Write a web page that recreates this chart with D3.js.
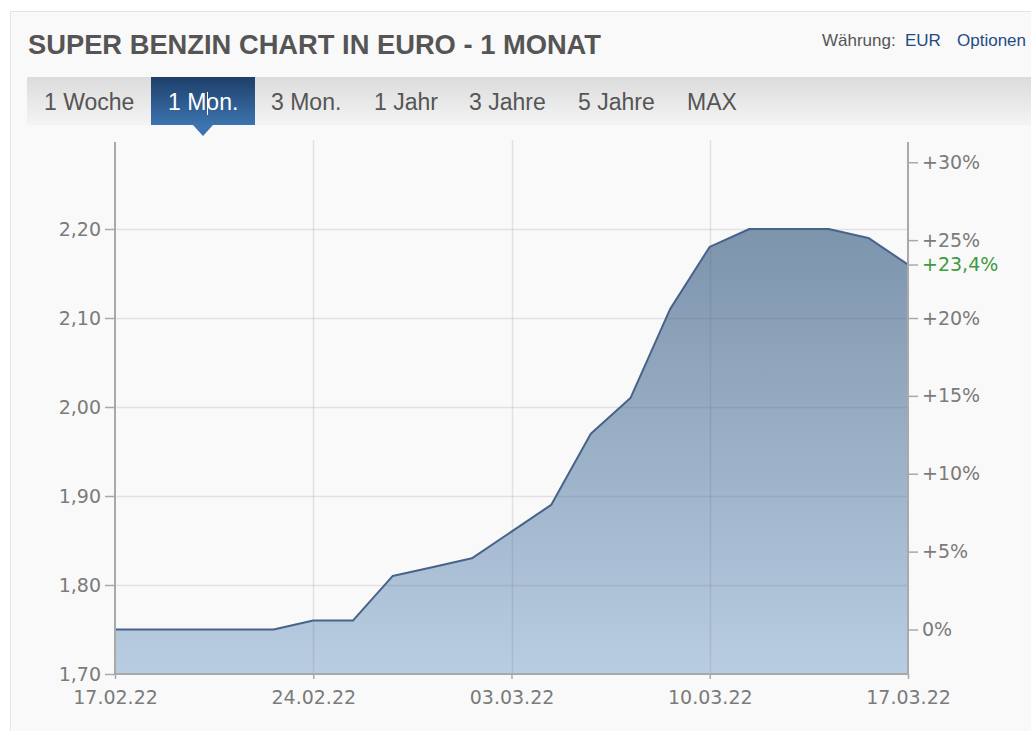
<!DOCTYPE html>
<html>
<head>
<meta charset="utf-8">
<script src="https://cdn.jsdelivr.net/npm/d3@7"></script>
<style>
  body { margin: 0; background: #fff; }
  svg { display: block; }
</style>
</head>
<body>
<svg id="chart" width="1031" height="731"></svg>
<script>
// price data, one point per trading day
const dates = ["17.02.22", "18.02.22", "21.02.22", "22.02.22", "23.02.22", "24.02.22", "25.02.22",
  "28.02.22", "01.03.22", "02.03.22", "03.03.22", "04.03.22", "07.03.22", "08.03.22", "09.03.22",
  "10.03.22", "11.03.22", "14.03.22", "15.03.22", "16.03.22", "17.03.22"]
const prices = [1.75, 1.75, 1.75, 1.75, 1.75, 1.76, 1.76, 1.81, 1.82, 1.83, 1.86, 1.89, 1.97,
  2.01, 2.11, 2.18, 2.20, 2.20, 2.20, 2.19, 2.16]
const priceTicks = [1.70, 1.80, 1.90, 2.00, 2.10, 2.20]
const pctTicks = [0, 5, 10, 15, 20, 25, 30]
const dateTicks = ["17.02.22", "24.02.22", "03.03.22", "10.03.22", "17.03.22"]
const tabs = ["1 Woche", "1 Mon.", "3 Mon.", "1 Jahr", "3 Jahre", "5 Jahre", "MAX"]
const tabX = [44, 168, 271, 374, 469, 578, 687]
const activeTab = 1

const svg = d3.select('#chart')
const LABEL_COLOR = '#7b7b7b'
const AXIS_COLOR = '#a9a9a9'
const TICK_FONT = '"DejaVu Sans", Verdana, sans-serif'

// panel
svg.append('rect').attr('x', 10.5).attr('y', 11.5).attr('width', 1040).attr('height', 740)
  .attr('fill', '#f9f9f9').attr('stroke', '#e4e4e4')

const defs = svg.append('defs')

// header
svg.append('text')
  .attr('x', 28).attr('y', 54)
  .attr('font-family', '"Liberation Sans", Arial, sans-serif')
  .attr('font-size', 28).attr('font-weight', 'bold')
  .attr('fill', '#555')
  .attr('textLength', 573).attr('lengthAdjust', 'spacingAndGlyphs')
  .text('SUPER BENZIN CHART IN EURO - 1 MONAT')

const currency = svg.append('text')
  .attr('y', 46)
  .attr('font-family', '"Liberation Sans", Arial, sans-serif')
  .attr('font-size', 17)
currency.append('tspan').attr('x', 822).attr('fill', '#555').text('Währung:')
currency.append('tspan').attr('x', 905).attr('fill', '#1f4b84').text('EUR')
currency.append('tspan').attr('x', 957).attr('fill', '#1f4b84').text('Optionen')

// tab bar
const barGrad = defs.append('linearGradient').attr('id', 'barGrad')
  .attr('x1', 0).attr('y1', 0).attr('x2', 0).attr('y2', 1)
barGrad.append('stop').attr('offset', 0).attr('stop-color', '#dcdcdc')
barGrad.append('stop').attr('offset', 1).attr('stop-color', '#f4f4f4')

const tabGrad = defs.append('linearGradient').attr('id', 'tabGrad')
  .attr('x1', 0).attr('y1', 0).attr('x2', 0).attr('y2', 1)
tabGrad.append('stop').attr('offset', 0).attr('stop-color', '#1d3f6a')
tabGrad.append('stop').attr('offset', 1).attr('stop-color', '#3d73ae')

svg.append('rect').attr('x', 27).attr('y', 77).attr('width', 1004).attr('height', 48)
  .attr('fill', 'url(#barGrad)')

svg.append('rect').attr('x', 151).attr('y', 77).attr('width', 104).attr('height', 48)
  .attr('fill', 'url(#tabGrad)')
svg.append('path').attr('d', 'M193,125 L213,125 L203,136 Z').attr('fill', '#3d73ae')

svg.selectAll('.tab')
  .data(tabs)
  .enter()
  .append('text')
  .attr('class', 'tab')
  .attr('x', (d, i) => tabX[i])
  .attr('y', 110)
  .attr('font-family', '"Liberation Sans", Arial, sans-serif')
  .attr('font-size', 23)
  .attr('fill', (d, i) => i === activeTab ? '#fff' : '#555')
  .text(d => d)

// text cursor left in the active tab
svg.append('line').attr('x1', 207.5).attr('x2', 207.5).attr('y1', 92).attr('y2', 115)
  .attr('stroke', '#fff').attr('stroke-width', 1)

// chart
const LEFT = 115
const RIGHT = 908
const BOTTOM = 674
const TOP = 140

const xScale = d3.scaleLinear().domain([0, dates.length - 1]).range([LEFT, RIGHT])
const yScale = d3.scaleLinear().domain([1.70, 2.30]).range([BOTTOM, TOP])
const base = prices[0]
const pctScale = d3.scaleLinear()
  .domain([(1.70 / base - 1) * 100, (2.30 / base - 1) * 100])
  .range([BOTTOM, TOP])

const g = svg.append('g')

const areaGrad = defs.append('linearGradient').attr('id', 'areaGrad')
  .attr('gradientUnits', 'userSpaceOnUse')
  .attr('x1', 0).attr('y1', yScale(2.2)).attr('x2', 0).attr('y2', BOTTOM)
areaGrad.append('stop').attr('offset', 0).attr('stop-color', '#7c94ac')
areaGrad.append('stop').attr('offset', 1).attr('stop-color', '#b9cde2')

g.append('path')
  .datum(prices)
  .attr('fill', 'url(#areaGrad)')
  .attr('d', d3.area()
    .x((d, i) => xScale(i))
    .y0(BOTTOM)
    .y1(d => yScale(d)))

// grid on top of the area so it shows through
g.selectAll('.hgrid')
  .data(priceTicks.slice(1))
  .enter()
  .append('line')
  .attr('x1', LEFT).attr('x2', RIGHT)
  .attr('y1', d => Math.round(yScale(d)) + 0.5).attr('y2', d => Math.round(yScale(d)) + 0.5)
  .attr('stroke', 'rgba(90,90,90,0.14)').attr('stroke-width', 1.5)

g.selectAll('.vgrid')
  .data(dateTicks.slice(1, -1))
  .enter()
  .append('line')
  .attr('x1', d => Math.round(xScale(dates.indexOf(d))) + 0.5)
  .attr('x2', d => Math.round(xScale(dates.indexOf(d))) + 0.5)
  .attr('y1', TOP).attr('y2', BOTTOM)
  .attr('stroke', 'rgba(90,90,90,0.14)').attr('stroke-width', 1.5)

g.append('path')
  .datum(prices)
  .attr('fill', 'none')
  .attr('stroke', '#48638a')
  .attr('stroke-width', 2)
  .attr('stroke-linejoin', 'round')
  .attr('d', d3.line()
    .x((d, i) => xScale(i))
    .y(d => yScale(d)))

// axes
const yAxis = g.append('g')
  .attr('transform', `translate(${LEFT}, 0)`)
  .call(d3.axisLeft(yScale).tickValues(priceTicks).tickSize(10).tickPadding(4)
    .tickFormat(d => d3.format('.2f')(d).replace('.', ',')))

const pctFmt = d => d === 0 ? '0%' : '+' + String(d).replace('.', ',') + '%'
const rAxis = g.append('g')
  .attr('transform', `translate(${RIGHT}, 0)`)
  .call(d3.axisRight(pctScale).tickValues(pctTicks).tickSize(10).tickPadding(4)
    .tickFormat(pctFmt))

// last value marker on the right axis
const lastPct = Math.round((prices[prices.length - 1] / base - 1) * 1000) / 10
const lastTick = g.append('g')
  .attr('transform', `translate(${RIGHT}, ${pctScale(lastPct)})`)
lastTick.append('line').attr('x2', 10).attr('stroke', AXIS_COLOR).attr('stroke-width', 1.5)
lastTick.append('text').attr('x', 14).attr('dy', '0.32em')
  .attr('font-family', TICK_FONT).attr('font-size', 19).attr('fill', '#3f9b3f')
  .text(pctFmt(lastPct))

const xAxis = g.append('g')
  .attr('transform', `translate(0, ${BOTTOM})`)
  .call(d3.axisBottom(xScale).tickValues(dateTicks.map(d => dates.indexOf(d)))
    .tickSize(5).tickPadding(12).tickFormat(i => dates[i]))

for (const ax of [yAxis, rAxis, xAxis]) {
  ax.select('.domain').remove()
  ax.selectAll('line').attr('stroke', AXIS_COLOR).attr('stroke-width', 1.5)
  ax.selectAll('text')
    .attr('font-family', TICK_FONT)
    .attr('font-size', 19)
    .attr('fill', LABEL_COLOR)
}

// frame lines of the plot
g.append('line').attr('x1', LEFT).attr('x2', LEFT).attr('y1', 142).attr('y2', BOTTOM)
  .attr('stroke', AXIS_COLOR).attr('stroke-width', 2)
g.append('line').attr('x1', RIGHT).attr('x2', RIGHT).attr('y1', 142).attr('y2', BOTTOM)
  .attr('stroke', AXIS_COLOR).attr('stroke-width', 2)
g.append('line').attr('x1', LEFT).attr('x2', RIGHT).attr('y1', BOTTOM).attr('y2', BOTTOM)
  .attr('stroke', AXIS_COLOR).attr('stroke-width', 2)
</script>
</body>
</html>
